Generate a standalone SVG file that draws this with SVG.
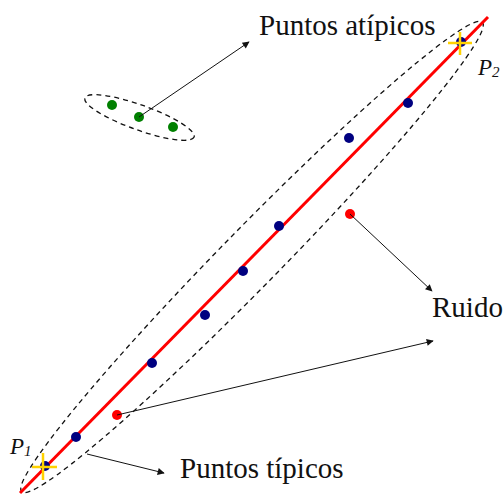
<svg xmlns="http://www.w3.org/2000/svg" width="504" height="495" viewBox="0 0 504 495">
<style>
.lbl{font-family:"Liberation Serif","Times New Roman",serif;font-size:29px;fill:#111}
.pl{font-family:"Liberation Serif","Times New Roman",serif;font-style:italic;fill:#111}
.dash{fill:none;stroke:#111;stroke-width:1.3;stroke-dasharray:5,4}
.arr{stroke:#111;stroke-width:1;fill:none;marker-end:url(#ah)}
.navy{fill:#000080}
.grn{fill:#008000}
.red{fill:#ff0000}
.cross{stroke:#ffd200;stroke-width:2.5}
</style>
<defs>
<marker id="ah" viewBox="0 0 10 10" refX="9" refY="5" markerWidth="10" markerHeight="7" markerUnits="userSpaceOnUse" orient="auto">
<path d="M0,0 L10,5 L0,10 Z" fill="#111"/>
</marker>
</defs>
<rect width="504" height="495" fill="#fff"/>
<g id="typical-region">
<ellipse class="dash" cx="252" cy="257" rx="329" ry="29" transform="rotate(-45.55 252 257)"/>
</g>
<g id="outlier-region">
<ellipse class="dash" cx="139.5" cy="117.5" rx="58" ry="12.5" transform="rotate(19.7 139.5 117.5)"/>
</g>
<g id="fit-line">
<line x1="20" y1="493" x2="488" y2="17" stroke="#ff0000" stroke-width="3"/>
</g>
<g id="typical-points">
<circle class="navy" cx="76" cy="437" r="5"/>
<circle class="navy" cx="152" cy="363" r="5"/>
<circle class="navy" cx="205" cy="315" r="5"/>
<circle class="navy" cx="243" cy="271" r="5"/>
<circle class="navy" cx="279" cy="226" r="5"/>
<circle class="navy" cx="349" cy="138" r="5"/>
<circle class="navy" cx="408" cy="103" r="5"/>
<circle class="navy" cx="45" cy="466" r="5"/>
<circle class="navy" cx="461" cy="42" r="5"/>
</g>
<g id="outlier-points">
<circle class="grn" cx="112" cy="105" r="5"/>
<circle class="grn" cx="139" cy="117" r="5"/>
<circle class="grn" cx="173" cy="127" r="5"/>
</g>
<g id="noise-points">
<circle class="red" cx="350" cy="214" r="5"/>
<circle class="red" cx="117" cy="415" r="5"/>
</g>
<g id="P1">
<line class="cross" x1="32" y1="467" x2="57" y2="467"/>
<line class="cross" x1="43" y1="453" x2="43" y2="480"/>
<text class="pl" x="10" y="454" font-size="23">P<tspan font-size="15" dy="2">1</tspan></text>
</g>
<g id="P2">
<line class="cross" x1="448" y1="43" x2="472" y2="43"/>
<line class="cross" x1="460" y1="32" x2="460" y2="55"/>
<text class="pl" x="478" y="75" font-size="23">P<tspan font-size="15" dy="2">2</tspan></text>
</g>
<g id="connectors">
<line class="arr" x1="139" y1="117" x2="249" y2="42"/>
<line class="arr" x1="350" y1="214" x2="432" y2="291"/>
<line class="arr" x1="117" y1="415" x2="433" y2="341"/>
<line class="arr" x1="87" y1="454" x2="164" y2="473"/>
</g>
<g id="labels">
<text class="lbl" x="259" y="35">Puntos atípicos</text>
<text class="lbl" x="432" y="317">Ruido</text>
<text class="lbl" x="180" y="478">Puntos típicos</text>
</g>
</svg>
